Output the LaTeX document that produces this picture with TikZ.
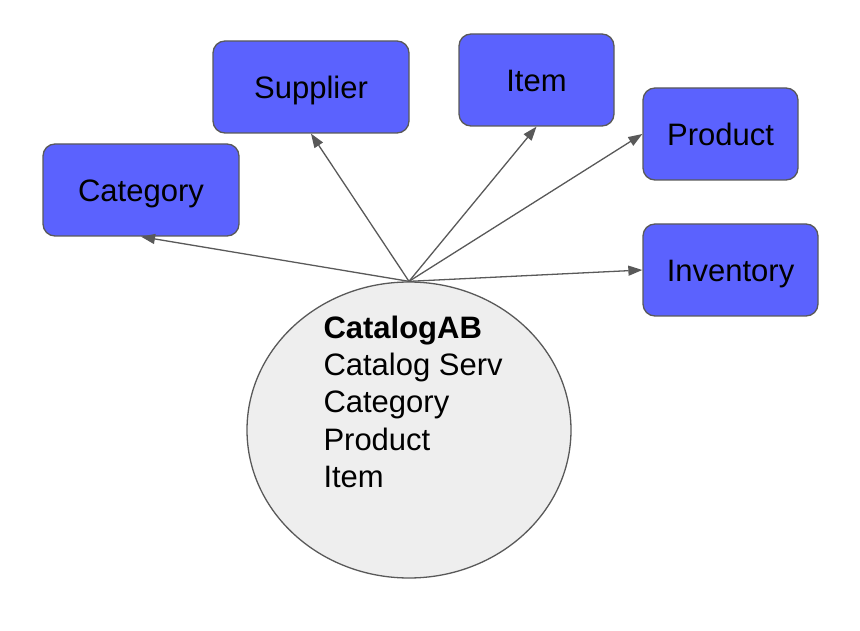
\documentclass[tikz,border=0pt]{standalone}
\usepackage{fontspec}
\setmainfont{Liberation Sans}
\usetikzlibrary{arrows.meta,shapes.geometric}
\definecolor{boxblue}{RGB}{91,98,254}
\definecolor{edgegray}{RGB}{89,89,89}
\definecolor{ellfill}{RGB}{238,238,238}
\tikzset{
  bluebox/.style={draw=edgegray, line width=1.3pt, fill=boxblue, rounded corners=12pt,
    inner sep=0pt, text height=23pt, text depth=0pt,
    font=\fontsize{31}{37.4}\selectfont},
  conn/.style={draw=edgegray, line width=1.3pt, -{Triangle[length=14pt,width=10pt]}},
}
\begin{document}
\begin{tikzpicture}[x=1pt,y=-1pt]
\useasboundingbox (0,0) rectangle (860,631);
\node[bluebox, minimum width=196pt, minimum height=92pt] (supplier) at (311,87) {Supplier};
\node[bluebox, minimum width=155pt, minimum height=92pt] (item) at (536.5,80) {Item};
\node[bluebox, minimum width=155pt, minimum height=92pt] (product) at (720.5,134) {Product};
\node[bluebox, minimum width=196pt, minimum height=92pt] (category) at (141,190) {Category};
\node[bluebox, minimum width=175pt, minimum height=92pt] (inventory) at (730.5,270) {Inventory};
\node[ellipse, draw=edgegray, line width=1.3pt, fill=ellfill, inner sep=0pt,
  minimum width=324pt, minimum height=296pt] (catalog) at (409,430) {};
\node[anchor=north west, inner sep=0pt, align=left, font=\fontsize{31}{37.4}\selectfont] (cattext) at (323.3,315.5)
  {\textbf{CatalogAB}\\Catalog Serv\\Category\\Product\\Item};
\draw[conn] (catalog.north) -- (category.south);
\draw[conn] (catalog.north) -- (supplier.south);
\draw[conn] (catalog.north) -- (item.south);
\draw[conn] (catalog.north) -- (product.west);
\draw[conn] (catalog.north) -- (inventory.west);
\end{tikzpicture}
\end{document}
